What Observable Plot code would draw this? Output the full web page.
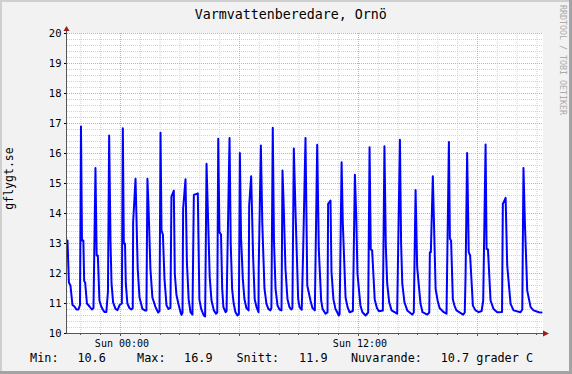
<!DOCTYPE html>
<html>
<head>
<meta charset="utf-8">
<script src="https://cdn.jsdelivr.net/npm/d3@7"></script>
<script src="https://cdn.jsdelivr.net/npm/@observablehq/plot@0.6"></script>
<style>
html, body { margin: 0; padding: 0; background: #f2f2f2; }
#chart { width: 572px; height: 374px; }
</style>
</head>
<body>
<div id="chart"></div>
<script>
// ---- texts ----
const title = "Varmvattenberedare, Ornö";
const yAxisLabel = "gflygt.se";
const watermark = "RRDTOOL / TOBI OETIKER";

// ---- axes ----
const yTicks = [10, 11, 12, 13, 14, 15, 16, 17, 18, 19, 20];
const xTickHours = [0, 12];                 // hours relative to Sun 00:00
const xTickLabels = ["Sun 00:00", "Sun 12:00"];
const xDomain = [-2.67, 21.33];             // 24 hour window

// ---- legend ----
const legendNames = ["Min:", "Max:", "Snitt:", "Nuvarande:"];
const legendValues = ["10.6", "16.9", "11.9", "10.7 grader C"];

// ---- series: time (hours from Sun 00:00) and temperature (°C) ----
const hours = [
  -2.67,-2.60,-2.52,-2.42,-2.32,-2.22,-2.12,-2.04,
  -1.99,-1.94,-1.87,-1.83,-1.78,-1.69,-1.56,-1.44,-1.36,
  -1.26,-1.20,-1.14,-1.06,-0.97,-0.89,-0.81,-0.71,-0.63,
  -0.57,-0.50,-0.45,-0.37,-0.25,-0.15,-0.04,
  0.07,0.12,0.17,0.23,0.27,0.35,0.45,0.55,0.62,0.64,
  0.76,0.87,0.96,1.11,1.23,1.31,
  1.36,1.41,1.51,1.61,1.77,1.90,1.97,
  2.02,2.07,2.14,2.22,2.32,2.42,2.52,
  2.57,2.69,2.74,2.82,2.92,3.03,3.08,3.13,3.16,
  3.28,3.35,3.44,3.53,3.63,
  3.70,3.90,3.98,4.07,4.20,4.27,
  4.34,4.50,4.59,4.71,4.82,4.88,
  4.93,4.99,5.07,5.13,5.19,5.30,5.35,5.38,
  5.50,5.56,5.63,5.71,5.80,5.90,5.97,
  6.02,6.08,6.17,6.25,6.35,6.46,6.49,
  6.59,6.69,6.77,6.86,6.96,6.97,
  7.08,7.15,7.26,7.36,7.46,7.56,7.61,
  7.68,7.74,7.82,7.92,8.02,8.12,
  8.17,8.22,8.32,8.42,8.52,8.62,8.67,
  8.74,8.83,8.96,9.03,9.14,9.21,
  9.33,9.42,9.58,9.68,9.80,
  9.92,10.00,10.12,10.19,10.34,10.44,
  10.47,10.59,10.64,10.74,10.84,10.93,11.01,11.05,
  11.15,11.21,11.35,11.45,11.55,11.72,
  11.82,11.89,11.95,12.10,12.20,12.36,12.49,
  12.56,12.62,12.69,12.82,12.93,13.03,13.23,
  13.31,13.38,13.45,13.55,13.67,13.95,
  14.09,14.15,14.21,14.32,14.46,14.71,14.79,
  14.88,14.96,15.13,15.23,15.47,15.57,15.60,15.65,
  15.75,15.89,15.99,16.09,16.30,16.44,
  16.56,16.61,16.67,16.76,16.84,16.94,17.28,17.36,17.40,
  17.48,17.56,17.63,17.77,17.90,18.07,18.21,18.29,
  18.41,18.46,18.53,18.66,18.81,19.00,19.24,
  19.28,19.42,19.50,19.67,19.82,20.17,20.26,
  20.32,20.39,20.51,20.68,20.83,21.10,21.23
];
const temps = [
  13.1,11.7,11.6,10.95,10.9,10.8,10.8,10.95,
  16.9,13.1,13.1,11.75,11.7,11.0,10.9,10.8,10.85,
  15.52,12.6,12.6,11.1,10.9,10.8,10.72,10.72,11.4,
  16.6,13.0,11.66,11.04,10.82,10.78,10.95,
  11.0,16.84,13.0,13.0,11.66,11.0,10.85,10.8,10.85,13.71,
  15.16,12.16,11.2,10.82,10.77,10.77,
  15.16,14.32,12.16,11.2,10.88,10.7,10.75,
  16.69,13.43,13.3,11.82,10.94,10.82,10.85,
  14.56,14.76,12.0,11.3,10.99,10.71,10.62,10.7,14.16,
  15.14,12.38,11.13,10.71,10.63,
  14.62,14.67,11.13,10.82,10.6,10.57,
  15.66,11.88,11.1,10.77,10.66,10.7,
  16.49,13.38,13.3,11.49,10.88,10.71,10.75,12.06,
  16.52,13.0,11.49,10.99,10.71,10.6,10.65,
  16.02,13.2,11.82,11.15,10.85,10.77,14.27,
  15.24,12.54,11.13,10.88,10.71,12.16,
  16.27,13.71,11.51,10.99,10.82,10.77,10.85,
  16.86,13.1,11.49,10.93,10.8,10.77,
  15.43,14.49,12.16,11.15,10.88,10.8,10.85,
  16.17,13.99,11.15,10.88,10.79,12.71,
  16.52,11.6,11.1,10.85,10.77,
  16.29,12.82,11.1,10.82,10.66,10.7,
  14.32,14.43,12.06,11.13,10.82,10.71,10.6,10.65,
  15.71,13.71,11.2,10.88,10.71,10.75,
  15.29,13.88,12.0,10.93,10.71,10.6,10.7,
  16.21,12.8,12.77,11.13,10.85,10.74,10.77,
  16.24,12.9,11.66,11.04,10.77,10.66,
  16.46,13.0,11.66,11.04,10.77,10.63,10.7,
  14.78,12.21,10.99,10.71,10.63,10.7,12.71,12.71,
  15.24,11.49,11.1,10.85,10.71,10.66,
  16.38,13.16,13.1,11.13,10.93,10.77,10.63,10.7,11.92,
  16.02,12.71,12.6,10.93,10.77,10.71,10.75,11.1,
  16.3,12.82,12.8,11.1,10.82,10.71,10.72,
  14.32,14.52,12.27,10.99,10.77,10.71,10.8,
  15.52,13.71,11.43,10.88,10.77,10.71,10.7
];

const data = hours.map((h, i) => ({h, v: temps[i]}));
if (hours.length !== temps.length) console.error("length mismatch", hours.length, temps.length);

// grid positions
const minorY = d3.range(10, 20.0001, 0.2).filter(v => Math.abs(v - Math.round(v)) > 1e-6);
const hourLines = d3.range(Math.ceil(xDomain[0]), xDomain[1]);
const minorX = hourLines.filter(h => h % 6 !== 0);
const majorX = hourLines.filter(h => h % 6 === 0);

const minorGrid = "#d2d2d2";
const majorGrid = "#e6a0a0";

const chart = Plot.plot({
  width: 572,
  height: 374,
  marginLeft: 67,
  marginRight: 29,
  marginTop: 33,
  marginBottom: 41,
  style: {background: "transparent", fontFamily: "DejaVu Sans Mono", fontSize: "10.5px", color: "#000"},
  x: {domain: xDomain, ticks: xTickHours, tickFormat: d => xTickLabels[xTickHours.indexOf(d)], tickSize: 0, tickPadding: 6, label: null},
  y: {domain: [10, 20], ticks: yTicks, tickSize: 3, tickPadding: 3, label: null},
  marks: [
    Plot.ruleY(minorY, {stroke: minorGrid, strokeDasharray: "1,1"}),
    Plot.ruleX(minorX, {stroke: minorGrid, strokeDasharray: "1,1"}),
    Plot.ruleY(yTicks.slice(1), {stroke: majorGrid, strokeDasharray: "1,1"}),
    Plot.ruleX(majorX, {stroke: majorGrid, strokeDasharray: "1,1"}),
    Plot.line(data, {x: "h", y: "v", stroke: "#0000ff", strokeWidth: 2})
  ]
});

document.getElementById("chart").appendChild(chart);

// ---- decorations drawn with the plot's scales ----
const svg = d3.select(chart);
const X = chart.scale("x"), Y = chart.scale("y");
const x0 = X.apply(xDomain[0]), x1 = X.apply(xDomain[1]);
const yb = Y.apply(10), yt = Y.apply(20);
const W = 572, H = 374;

// background and 3D border
const bg = svg.insert("g", ":first-child");
bg.append("rect").attr("x", 0).attr("y", 0).attr("width", W).attr("height", H).attr("fill", "#f2f2f2");
bg.append("rect").attr("x", x0).attr("y", yt).attr("width", x1 - x0).attr("height", yb - yt).attr("fill", "#ffffff");
bg.append("rect").attr("x", 0).attr("y", 0).attr("width", W).attr("height", 2).attr("fill", "#cfcfcf");
bg.append("rect").attr("x", 0).attr("y", 0).attr("width", 2).attr("height", H).attr("fill", "#cfcfcf");
bg.append("rect").attr("x", 0).attr("y", H - 3).attr("width", W).attr("height", 3).attr("fill", "#a3a3a3");
bg.append("rect").attr("x", W - 3).attr("y", 0).attr("width", 3).attr("height", H).attr("fill", "#a3a3a3");

// axis lines, ticks and arrows
const deco = svg.append("g");
const axisColor = "#555555";
const arrowColor = "#9b1c1c";
deco.append("line").attr("x1", x0 - 0.5).attr("x2", x0 - 0.5).attr("y1", yb + 0.5).attr("y2", yt - 4)
  .attr("stroke", axisColor);
deco.append("line").attr("x1", x0 - 0.5).attr("x2", x1 + 3).attr("y1", yb + 0.5).attr("y2", yb + 0.5)
  .attr("stroke", axisColor);
hourLines.forEach(h => {
  const px = Math.round(X.apply(h)) + 0.5;
  deco.append("line").attr("x1", px).attr("x2", px).attr("y1", yb).attr("y2", yb + (h % 6 === 0 ? 3 : 2))
    .attr("stroke", axisColor);
});
deco.append("polygon")
  .attr("points", `${x0 - 3.5},${yt - 2} ${x0 + 2.5},${yt - 2} ${x0 - 0.5},${yt - 7}`)
  .attr("fill", arrowColor);
deco.append("polygon")
  .attr("points", `${x1},${yb - 2.5} ${x1},${yb + 3.5} ${x1 + 6},${yb + 0.5}`)
  .attr("fill", arrowColor);

// font tweaks for axis labels
svg.selectAll('g[aria-label^="x-axis"] text').attr("font-size", "10px").attr("dx", 1.5);

// title
svg.append("text").attr("x", 290.8).attr("y", 18.5).attr("text-anchor", "middle")
  .attr("font-family", "DejaVu Sans Mono").attr("font-size", "13.3px").attr("fill", "#000")
  .text(title);

// vertical label left
svg.append("text").attr("transform", "translate(13,178.5) rotate(-90)").attr("text-anchor", "middle")
  .attr("font-family", "DejaVu Sans Mono").attr("font-size", "11.5px").attr("fill", "#000")
  .text(yAxisLabel);

// watermark right
svg.append("text").attr("transform", "translate(560,5) rotate(90)").attr("text-anchor", "start")
  .attr("font-family", "DejaVu Sans Mono").attr("font-size", "8.3px").attr("fill", "#aaaaaa")
  .text(watermark);

// legend
const nameX = [30.1, 137.1, 236.5, 350.9];
const valueX = [77.4, 184.1, 299.1, 440.7];
const lg = svg.append("g").attr("font-family", "DejaVu Sans Mono").attr("font-size", "11.8px")
  .attr("fill", "#000").attr("text-anchor", "start");
legendNames.forEach((n, i) => {
  lg.append("text").attr("x", nameX[i]).attr("y", 361.7).attr("text-anchor", "start").text(n);
  lg.append("text").attr("x", valueX[i]).attr("y", 361.7).attr("text-anchor", "start").text(legendValues[i]);
});
</script>
</body>
</html>
